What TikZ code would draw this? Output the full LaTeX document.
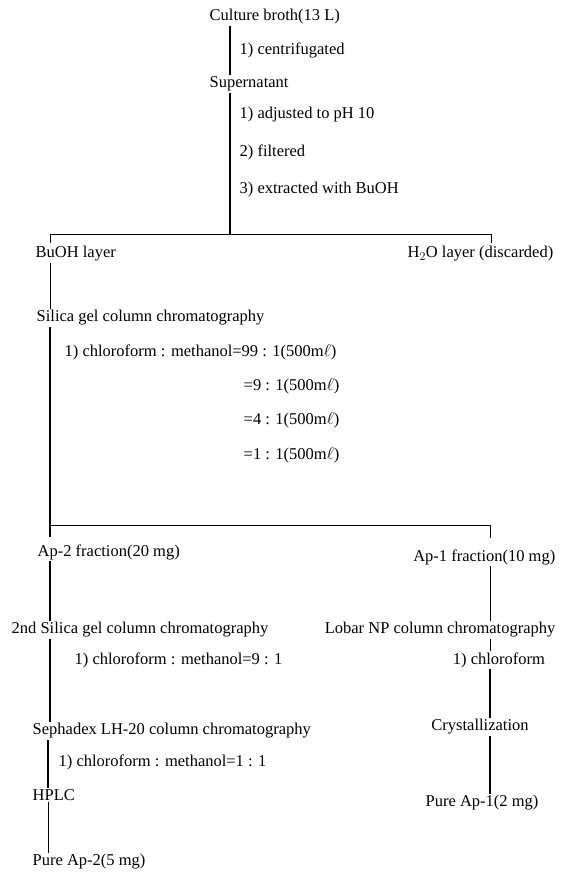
\documentclass[tikz,border=0pt]{standalone}
\usepackage{fontspec}
\setmainfont{Liberation Serif}
\usetikzlibrary{calc}
\tikzset{every node/.append style={font=\fontsize{16.5}{19}\selectfont, inner sep=1.5pt}}
\tikzset{step line/.style={line width=1.3pt}, thin step/.style={line width=1pt}}
\newcommand{\ml}{(500m$\ell$)}

\begin{document}
\begin{tikzpicture}[x=1pt, y=-1pt]
    \useasboundingbox (0,0) rectangle (564,874);
    % stems
    \coordinate (xtop) at (230,0);
    \coordinate (xleft) at (50,0);
    \coordinate (xseph) at (48,0);
    \coordinate (xright) at (490,0);
    \coordinate (jl) at (50,235);
    \coordinate (jr) at (491,235);
    \coordinate (kl) at (50,525);
    \coordinate (kr) at (490,525);
    % top part
    \node[anchor=west] (culture) at (208,17) {Culture broth(13 L)};
    \node[anchor=west] (cent) at (238,50) {1) centrifugated};
    \node[anchor=west] (super) at (208,84) {Supernatant};
    \node[anchor=west] (adj) at (238,115) {1) adjusted to pH 10};
    \node[anchor=west] (filt) at (238,152) {2) filtered};
    \node[anchor=west] (extr) at (238,190) {3) extracted with BuOH};
    \node[anchor=west] (buoh) at (34,254) {BuOH layer};
    \node[anchor=east] (water) at (555,254) {H$_2$O layer (discarded)};
    \draw[step line] (xtop |- culture.south) -- (xtop |- super.north);
    \draw[step line] (xtop |- super.south) -- (xtop |- jl);
    \draw[thin step] ($(jl)+(0,8)$) -- (jl) -- (jr) -- ($(jr)+(0,8)$);
    % silica gel
    \node[anchor=west] (silica) at (35,318) {Silica gel column chromatography};
    \node[anchor=west] (cm1) at (63,352) {1) chloroform : methanol=99 : 1\ml};
    \foreach \y/\r in {386/9, 420/4, 455/1} {
        \node[anchor=west] (el\r) at (242,\y) {=\r\ : 1\ml};
    }
    \draw[thin step] (xleft |- buoh.south) -- (xleft |- silica.north);
    \draw[step line] (xleft |- silica.south) -- ($(kl)+(0,12)$);
    \draw[thin step] (kl) -- (kr) -- ($(kr)+(0,13)$);
    % fractions
    \node[anchor=west] (ap2) at (36,552) {Ap-2 fraction(20 mg)};
    \node[anchor=east] (ap1) at (557,557) {Ap-1 fraction(10 mg)};
    \node[anchor=west] (silica2) at (10,630) {2nd Silica gel column chromatography};
    \node[anchor=east] (lobar) at (557,630) {Lobar NP column chromatography};
    \node[anchor=west] (cm2) at (73,660) {1) chloroform : methanol=9 : 1};
    \node[anchor=west] (seph) at (31,731) {Sephadex LH-20 column chromatography};
    \node[anchor=west] (cm3) at (57,762) {1) chloroform : methanol=1 : 1};
    \node[anchor=west] (hplc) at (31,795) {HPLC};
    \node[anchor=west] (pure2) at (31,862) {Pure Ap-2(5 mg)};
    \node (chl) at (499,660) {1) chloroform};
    \node (cryst) at (480,727) {Crystallization};
    \node (pure1) at (482,803) {Pure Ap-1(2 mg)};
    % left branch
    \draw[step line] (xleft |- ap2.south) -- (xleft |- silica2.north);
    \draw[step line] (xleft |- silica2.south) -- (xleft |- seph.north);
    \draw[step line] (xseph |- seph.south) -- (xseph |- hplc.north);
    \draw[thin step] (xseph |- hplc.south) -- (xseph |- pure2.north);
    % right branch
    \draw[thin step] (xright |- ap1.south) -- (xright |- lobar.north);
    \draw[thin step] (xright |- lobar.south) -- (xright |- chl.north);
    \draw[step line] (xright |- chl.south) -- (xright |- cryst.north);
    \draw[step line] (xright |- cryst.south) -- (xright |- pure1.north);
\end{tikzpicture}
\end{document}
